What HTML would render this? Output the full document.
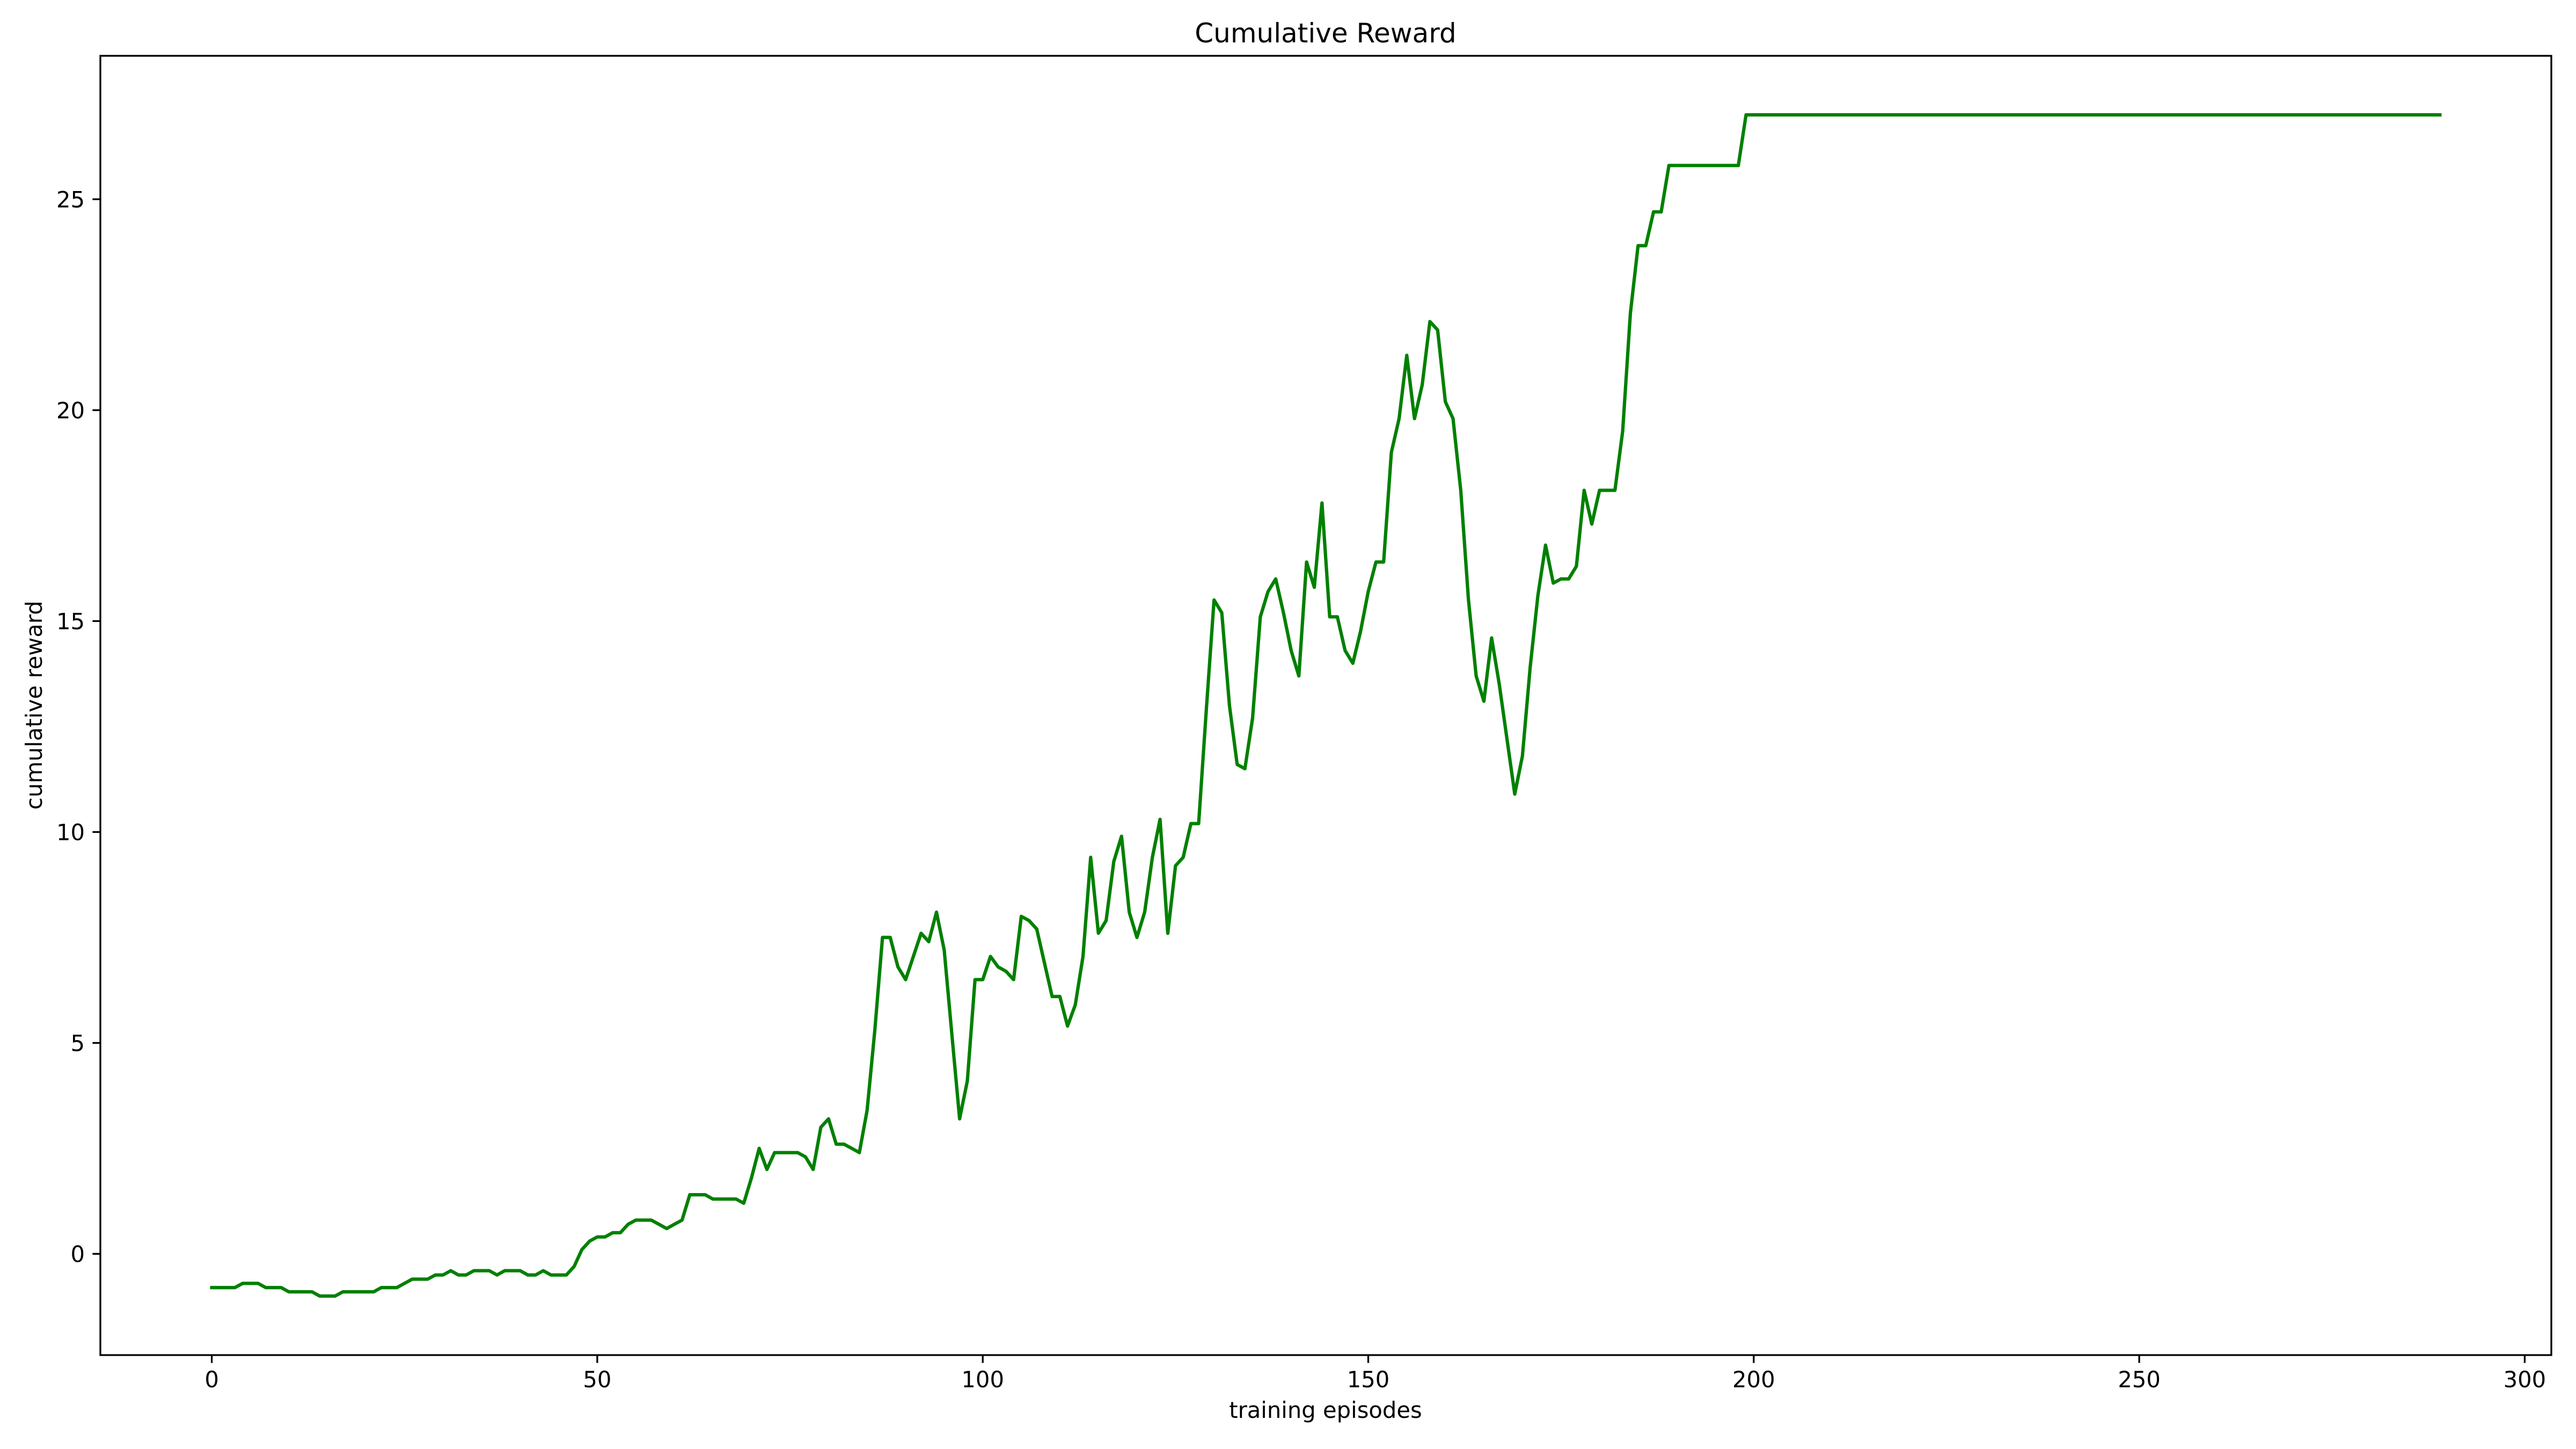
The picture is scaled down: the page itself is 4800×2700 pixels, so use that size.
<!DOCTYPE html>
<html><head><meta charset="utf-8"><style>
html,body{margin:0;padding:0;background:#fff;}
svg{display:block;font-family:"DejaVu Sans","Liberation Sans",sans-serif;}
</style></head><body>
<svg id="chart" width="4800" height="2700" viewBox="0 0 4800 2700" xmlns="http://www.w3.org/2000/svg">
<rect width="4800" height="2700" fill="#fff"/>
<text x="2470" y="79" font-size="50" text-anchor="middle">Cumulative Reward</text>
<g id="ticks"></g>
<path id="series" fill="none" stroke="#008000" stroke-width="6.25" stroke-linejoin="round" stroke-linecap="square"/>
<rect x="187" y="104" width="4567" height="2421" fill="none" stroke="#000" stroke-width="3.3"/>
<text x="2470" y="2642" font-size="41.7" text-anchor="middle">training episodes</text>
<text x="78" y="1314" font-size="41.7" text-anchor="middle" transform="rotate(-90 78 1314)">cumulative reward</text>
</svg>
<script>
const rewards = [-0.8,-0.8,-0.8,-0.8,-0.7,-0.7,-0.7,-0.8,-0.8,-0.8,
-0.9,-0.9,-0.9,-0.9,-1.0,-1.0,-1.0,-0.9,-0.9,-0.9,
-0.9,-0.9,-0.8,-0.8,-0.8,-0.7,-0.6,-0.6,-0.6,-0.5,
-0.5,-0.4,-0.5,-0.5,-0.4,-0.4,-0.4,-0.5,-0.4,-0.4,
-0.4,-0.5,-0.5,-0.4,-0.5,-0.5,-0.5,-0.3,0.1,0.3,
0.4,0.4,0.5,0.5,0.7,0.8,0.8,0.8,0.7,0.6,
0.7,0.8,1.4,1.4,1.4,1.3,1.3,1.3,1.3,1.2,
1.8,2.5,2.0,2.4,2.4,2.4,2.4,2.3,2.0,3.0,
3.2,2.6,2.6,2.5,2.4,3.4,5.3,7.5,7.5,6.8,
6.5,7.05,7.6,7.4,8.1,7.2,5.2,3.2,4.1,6.5,
6.5,7.05,6.8,6.7,6.5,8.0,7.9,7.7,6.9,6.1,
6.1,5.4,5.9,7.05,9.4,7.6,7.9,9.3,9.9,8.1,
7.5,8.1,9.4,10.3,7.6,9.2,9.4,10.2,10.2,12.9,
15.5,15.2,13.0,11.6,11.5,12.7,15.1,15.7,16.0,15.2,
14.3,13.7,16.4,15.8,17.8,15.1,15.1,14.3,14.0,14.75,
15.7,16.4,16.4,19.0,19.8,21.3,19.8,20.6,22.1,21.9,
20.2,19.8,18.1,15.5,13.7,13.1,14.6,13.5,12.2,10.9,
11.8,13.9,15.6,16.8,15.9,16.0,16.0,16.3,18.1,17.3,
18.1,18.1,18.1,19.5,22.3,23.9,23.9,24.7,24.7,25.8,
25.8,25.8,25.8,25.8,25.8,25.8,25.8,25.8,25.8,27.0,
27,27,27,27,27,27,27,27,27,27,27,27,27,27,27,27,27,27,27,27,
27,27,27,27,27,27,27,27,27,27,27,27,27,27,27,27,27,27,27,27,
27,27,27,27,27,27,27,27,27,27,27,27,27,27,27,27,27,27,27,27,
27,27,27,27,27,27,27,27,27,27,27,27,27,27,27,27,27,27,27,27,
27,27,27,27,27,27,27,27,27,27];
const xTicks = [0,50,100,150,200,250,300];
const yTicks = [0,5,10,15,20,25];

const L=187,R=4754,T=104,B=2525;
const n=rewards.length;
const xmin=-(n-1)*0.05, xmax=(n-1)*1.05;
const ymn=Math.min(...rewards), ymx=Math.max(...rewards), yr=ymx-ymn;
const ymin=ymn-0.05*yr, ymax=ymx+0.05*yr;
const xs=v=>L+(v-xmin)/(xmax-xmin)*(R-L);
const ys=v=>B-(v-ymin)/(ymax-ymin)*(B-T);
const NS="http://www.w3.org/2000/svg";
const g=document.getElementById('ticks');
xTicks.forEach(t=>{
  const x=xs(t);
  const ln=document.createElementNS(NS,'line');
  ln.setAttribute('x1',x);ln.setAttribute('x2',x);ln.setAttribute('y1',B);ln.setAttribute('y2',B+14.6);
  ln.setAttribute('stroke','#000');ln.setAttribute('stroke-width','3.3');
  
  
  g.appendChild(ln);
  const tx=document.createElementNS(NS,'text');
  tx.setAttribute('x',x);tx.setAttribute('y',B+60);tx.setAttribute('font-size','41.7');tx.setAttribute('text-anchor','middle');
  tx.textContent=t;
  
  
  g.appendChild(tx);
});
yTicks.forEach(t=>{
  const y=ys(t);
  const ln=document.createElementNS(NS,'line');
  ln.setAttribute('x1',L-14.6);ln.setAttribute('x2',L);ln.setAttribute('y1',y);ln.setAttribute('y2',y);
  ln.setAttribute('stroke','#000');ln.setAttribute('stroke-width','3.3');
  
  
  g.appendChild(ln);
  const tx=document.createElementNS(NS,'text');
  tx.setAttribute('x',L-29);tx.setAttribute('y',y+15);tx.setAttribute('font-size','41.7');tx.setAttribute('text-anchor','end');
  tx.textContent=t;
  
  
  g.appendChild(tx);
});
document.getElementById('series').setAttribute('d',rewards.map((v,i)=>(i?'L':'M')+xs(i).toFixed(1)+' '+ys(v).toFixed(1)).join(' '));
</script>
</body></html>
